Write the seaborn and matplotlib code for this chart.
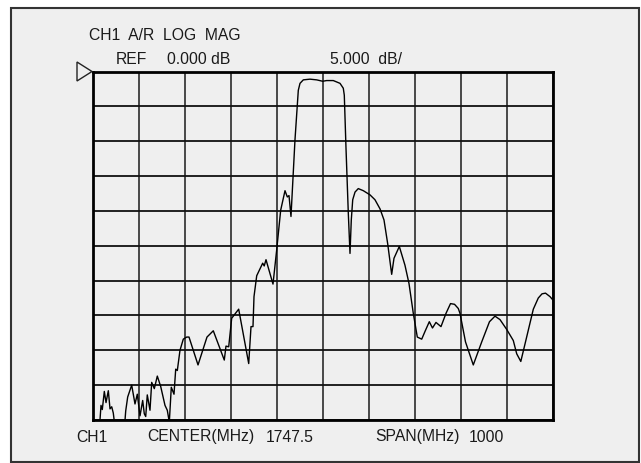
import numpy as np
import pandas as pd
import matplotlib
matplotlib.use("Agg")
import matplotlib.pyplot as plt
import seaborn as sns
from matplotlib.patches import Rectangle, Polygon

# trace (MHz, dB)
freq_mhz = [1262.7, 1264.9, 1267.7, 1272.1, 1275.8, 1280.8, 1284.5, 1288.2, 1291.6,
            1295.3, 1306.2, 1316.0, 1318.6, 1322.9, 1331.6, 1338.8, 1343.8, 1349.7,
            1355.5, 1359.0, 1362.1, 1365.5, 1371.4, 1375.1, 1380.8, 1387.3, 1394.7,
            1404.0, 1409.0, 1413.4, 1417.7, 1423.6, 1427.3, 1430.8, 1436.6, 1443.8,
            1451.2, 1456.2, 1475.8, 1495.3, 1509.0, 1532.9, 1536.6, 1542.5, 1549.0,
            1564.2, 1586.0, 1591.0, 1595.3, 1597.5, 1603.4, 1616.4, 1619.7, 1623.6,
            1638.8, 1646.8, 1655.5, 1664.9, 1669.9, 1673.6, 1677.9, 1686.6, 1693.8,
            1697.5, 1704.7, 1719.2, 1733.8, 1746.8, 1755.5, 1769.9, 1784.5, 1791.6,
            1793.8, 1797.5, 1802.5, 1806.2, 1809.0, 1812.1, 1817.1, 1824.2, 1835.1,
            1849.7, 1860.5, 1871.4, 1880.1, 1888.1, 1896.8, 1901.8, 1913.4, 1925.7,
            1934.4, 1943.8, 1952.5, 1962.1, 1969.2, 1978.6, 1985.5, 1993.1, 2004.0,
            2014.9, 2024.7, 2033.4, 2041.6, 2045.3, 2057.3, 2074.2, 2092.5, 2109.4,
            2121.4, 2132.3, 2146.8, 2161.2, 2168.6, 2177.5, 2187.7, 2204.7, 2215.5,
            2223.6, 2231.2, 2241.0, 2247.5]
level_db = [-50.0, -47.9, -48.5, -45.9, -47.5, -45.8, -48.4, -48.1, -49.0,
            -51.0, -52.0, -51.0, -48.7, -46.7, -45.0, -47.7, -46.3, -49.4,
            -47.2, -49.1, -49.5, -46.4, -48.6, -44.6, -45.5, -43.7, -45.2,
            -47.9, -48.6, -50.3, -45.3, -46.3, -42.7, -42.9, -40.0, -38.4,
            -38.1, -38.1, -42.1, -38.1, -37.2, -41.4, -39.4, -39.5, -35.4,
            -34.1, -41.9, -36.6, -36.6, -32.3, -29.3, -27.5, -27.9, -27.0,
            -30.5, -25.6, -19.9, -17.1, -18.0, -17.8, -20.8, -9.8, -2.7,
            -1.7, -1.2, -1.1, -1.2, -1.4, -1.3, -1.3, -1.7, -2.4,
            -3.4, -11.0, -20.3, -26.1, -21.3, -18.4, -17.3, -16.8, -17.1,
            -17.7, -18.4, -19.7, -21.3, -24.7, -29.1, -26.8, -25.1, -27.8,
            -30.4, -34.7, -38.1, -38.4, -37.3, -35.9, -36.8, -36.0, -36.6,
            -34.7, -33.3, -33.4, -34.0, -34.7, -38.8, -42.1, -38.8, -35.9,
            -35.1, -35.6, -37.0, -38.6, -40.5, -41.6, -38.8, -34.1, -32.5,
            -31.9, -31.8, -32.3, -32.8]

center_mhz = 1747.5
span_mhz = 1000
ref_db = 0.0
scale_db = 5.0

W, H = 641, 463
BG = "#efefef"
INK = "#1a1a1a"

sns.set_style("white")
plt.rcParams["font.family"] = ["Liberation Sans", "DejaVu Sans"]

fig = plt.figure(figsize=(W / 100, H / 100), dpi=100)
fig.patch.set_facecolor("white")


def fx(x):
    return x / W


def fy(y):
    return 1 - y / H


# instrument screen frame
fig.add_artist(Rectangle((fx(11), fy(462)), fx(627.5), (462 - 7.5) / H,
                         transform=fig.transFigure, facecolor=BG,
                         edgecolor="#333333", linewidth=1.5, zorder=0))

ax = fig.add_axes([fx(93), fy(420), fx(553 - 93), (420 - 71.5) / H])
ax.set_facecolor(BG)

df = pd.DataFrame({"f": freq_mhz, "db": level_db})
sns.lineplot(data=df, x="f", y="db", color="black", linewidth=1.0,
             sort=False, estimator=None, ax=ax)

x0 = center_mhz - span_mhz / 2
ax.set_xlim(x0, x0 + span_mhz)
ax.set_ylim(ref_db - 10 * scale_db, ref_db)
ax.set_xticks(np.linspace(x0, x0 + span_mhz, 11))
ax.set_yticks(np.arange(ref_db - 10 * scale_db, ref_db + 0.1, scale_db))
ax.tick_params(length=0, labelbottom=False, labelleft=False)
ax.grid(True, axis="x", color="#3a3a3a", linewidth=1.3)
ax.grid(True, axis="y", color="#111111", linewidth=1.3)
ax.set_xlabel("")
ax.set_ylabel("")
for s in ax.spines.values():
    s.set_visible(True)
    s.set_color("black")
    s.set_linewidth(2)

# reference position marker
fig.add_artist(Polygon([(fx(77), fy(62)), (fx(92), fy(71.5)), (fx(77), fy(81))],
                       closed=True, transform=fig.transFigure, fill=False,
                       edgecolor="#222222", linewidth=1.0))

fs = 11.3
labels = [
    (89, 35, "CH1  A/R  LOG  MAG"),
    (116, 59, "REF"),
    (167, 59, "0.000 dB"),
    (330, 59, "5.000  dB/"),
    (76, 437, "CH1"),
    (147, 437, "CENTER(MHz)"),
    (266, 437, "1747.5"),
    (375, 437, "SPAN(MHz)"),
    (469, 437, "1000"),
]
for x, y, t in labels:
    fig.text(fx(x), fy(y), t, fontsize=fs, color=INK, ha="left", va="center")

fig.savefig("out.png", dpi=100)
